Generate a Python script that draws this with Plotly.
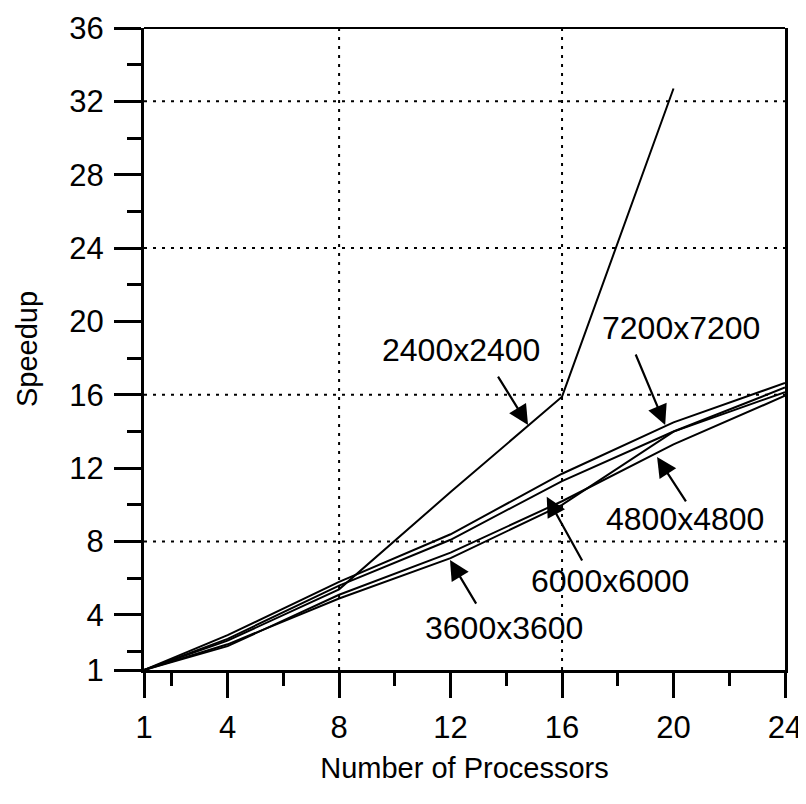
import plotly.graph_objects as go

# ---- data ----
processors = [1, 4, 8, 12, 16, 20, 24]
processors_2400 = [1, 4, 8, 12, 16, 20]
speedup_2400 = [1, 2.6, 5.4, 10.7, 15.9, 32.7]
speedup_3600 = [1, 2.4, 4.9, 7.1, 10.0, 14.0, 16.15]
speedup_4800 = [1, 2.3, 5.1, 7.4, 10.2, 13.3, 15.95]
speedup_6000 = [1, 2.7, 5.6, 8.1, 11.3, 14.0, 16.4]
speedup_7200 = [1, 2.9, 5.8, 8.4, 11.7, 14.5, 16.65]

x_ticks = [1, 4, 8, 12, 16, 20, 24]
y_ticks = [1, 4, 8, 12, 16, 20, 24, 28, 32, 36]
x_minor = [2, 6, 10, 14, 18, 22]
y_minor = [2, 6, 10, 14, 18, 22, 26, 30, 34]
x_grid = [8, 16]
y_grid = [8, 16, 24, 32]

labels = ["2400x2400", "7200x7200", "4800x4800", "6000x6000", "3600x3600"]
label_pos = [(12.37, 18.45), (20.27, 19.65), (20.41, 9.23), (17.72, 5.85), (13.92, 3.29)]
arrow_tail = [(13.67, 17.08), (18.62, 18.28), (20.48, 10.11), (16.75, 6.89), (12.95, 4.54)]
arrow_head = [(14.78, 14.36), (19.70, 14.36), (19.41, 12.61), (15.45, 10.45), (11.98, 7.0)]

FONT = "Liberation Sans, Arial, Helvetica, sans-serif"

fig = go.Figure()
series = [
    (processors_2400, speedup_2400, "2400x2400"),
    (processors, speedup_3600, "3600x3600"),
    (processors, speedup_4800, "4800x4800"),
    (processors, speedup_6000, "6000x6000"),
    (processors, speedup_7200, "7200x7200"),
]
for xs, ys, name in series:
    fig.add_trace(go.Scatter(x=xs, y=ys, mode="lines", name=name,
                             line=dict(color="black", width=2), showlegend=False))

shapes = []
for gx in x_grid:
    shapes.append(dict(type="line", xref="x", yref="y", x0=gx, x1=gx, y0=1, y1=36,
                       line=dict(color="black", width=2, dash="3px,6px"), layer="below"))
for gy in y_grid:
    shapes.append(dict(type="line", xref="x", yref="y", x0=1, x1=24, y0=gy, y1=gy,
                       line=dict(color="black", width=2, dash="3px,6px"), layer="below"))
# top frame line (thinner)
shapes.append(dict(type="line", xref="paper", yref="paper", x0=0, x1=1, y0=1, y1=1,
                   line=dict(color="black", width=2)))

annotations = []
for txt, (tx, ty) in zip(labels, label_pos):
    annotations.append(dict(x=tx, y=ty, xref="x", yref="y", text=txt, showarrow=False,
                            font=dict(family=FONT, size=32, color="black")))
for (hx, hy), (tx, ty) in zip(arrow_head, arrow_tail):
    annotations.append(dict(x=hx, y=hy, xref="x", yref="y", ax=tx, ay=ty,
                            axref="x", ayref="y", text="", showarrow=True,
                            arrowhead=2, arrowsize=1.8, arrowwidth=2.2, arrowcolor="black"))

fig.update_layout(
    width=798, height=796,
    margin=dict(l=136, r=21, t=20, b=134),
    paper_bgcolor="white", plot_bgcolor="white",
    font=dict(family=FONT, size=30, color="black"),
    shapes=shapes, annotations=annotations,
    xaxis=dict(range=[1, 24], tickmode="array", tickvals=x_ticks, ticks="outside",
               ticklen=25, tickwidth=3, tickcolor="black", showline=True, linewidth=3,
               linecolor="black", showgrid=False, zeroline=False, automargin=False,
               tickfont=dict(size=31), ticklabelstandoff=3,
               minor=dict(tickvals=x_minor, ticks="outside", ticklen=13, tickwidth=3,
                          tickcolor="black", showgrid=False),
               title=dict(text="Number of Processors", font=dict(size=29), standoff=14)),
    yaxis=dict(range=[1, 36], tickmode="array", tickvals=y_ticks, ticks="outside",
               ticklen=27, tickwidth=3, tickcolor="black", showline=True, linewidth=3,
               linecolor="black", mirror=True, showgrid=False, zeroline=False, automargin=False,
               tickfont=dict(size=31), ticklabelstandoff=4,
               minor=dict(tickvals=y_minor, ticks="outside", ticklen=14, tickwidth=3,
                          tickcolor="black", showgrid=False),
               title=dict(text="Speedup", font=dict(size=29), standoff=24)),
)

fig.write_html("out.html")
